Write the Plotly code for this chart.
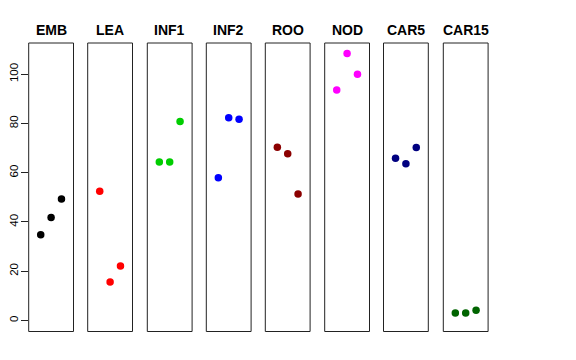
import plotly.graph_objects as go

panels = ["EMB", "LEA", "INF1", "INF2", "ROO", "NOD", "CAR5", "CAR15"]
colors = ["#000000", "#FF0000", "#00CD00", "#0000FF", "#8B0000", "#FF00FF", "#000080", "#006400"]
rep = [1, 2, 3]
emb = [34.8, 41.8, 49.3]
lea = [52.5, 15.6, 22.1]
inf1 = [64.4, 64.4, 80.8]
inf2 = [58.0, 82.3, 81.7]
roo = [70.4, 67.7, 51.4]
nod = [93.6, 108.4, 100.0]
car5 = [65.9, 63.6, 70.2]
car15 = [3.0, 3.0, 4.1]
values = [emb, lea, inf1, inf2, roo, nod, car5, car15]
yticks = [0, 20, 40, 60, 80, 100]

W, H = 576, 360
OFF = 8  # page body margin
lefts = [28.7, 87.7, 147.3, 206.3, 265.3, 324.7, 383.5, 443.3]
pw = 44.8
ytop, ybot = 43.0, 331.5

def px(x):
    return (x - OFF) / W

def py(y):
    return 1 - (y - OFF) / H

fig = go.Figure()
layout = dict(
    width=W, height=H, margin=dict(l=0, r=0, t=0, b=0, autoexpand=False),
    paper_bgcolor="white", plot_bgcolor="white", showlegend=False,
    font=dict(family="Liberation Sans, Arial, sans-serif", color="black"),
)
shapes = []
annotations = []
for i, (name, col, vals) in enumerate(zip(panels, colors, values)):
    k = i + 1
    xa = "x" if k == 1 else f"x{k}"
    fig.add_trace(go.Scatter(
        x=rep, y=vals, mode="markers", xaxis=xa, yaxis="y",
        marker=dict(color=col, size=7.5, line=dict(width=0)),
        hoverinfo="skip",
    ))
    d0 = px(lefts[i])
    d1 = px(lefts[i] + pw)
    layout["xaxis" if k == 1 else f"xaxis{k}"] = dict(
        domain=[d0, d1], range=[-0.16, 4.16], anchor="y",
        showgrid=False, zeroline=False, showticklabels=False, ticks="",
        showline=False, fixedrange=True, automargin=False,
    )
    shapes.append(dict(
        type="rect", xref=f"{xa} domain", yref="y domain",
        x0=0, x1=1, y0=0, y1=1, line=dict(color="#222222", width=1),
    ))
    annotations.append(dict(
        text=f"<b>{name}</b>", x=(d0 + d1) / 2, y=py(29.5),
        xref="paper", yref="paper", showarrow=False,
        xanchor="center", yanchor="middle",
        font=dict(size=14, color="black", family="Liberation Sans, Arial, sans-serif"),
    ))

layout["yaxis"] = dict(
    domain=[py(ybot), py(ytop)], range=[-4.5, 112.7], anchor="x",
    showgrid=False, zeroline=False, tickmode="array", tickvals=yticks,
    ticktext=[str(v) for v in yticks], ticks="outside", ticklen=7,
    tickcolor="#222222", tickangle=-90, showline=False, automargin=False,
    ticklabelstandoff=-2,
    tickfont=dict(size=11.5, color="black"), fixedrange=True,
)
layout["shapes"] = shapes
layout["annotations"] = annotations
fig.update_layout(**layout)
fig.write_html("out.html")
